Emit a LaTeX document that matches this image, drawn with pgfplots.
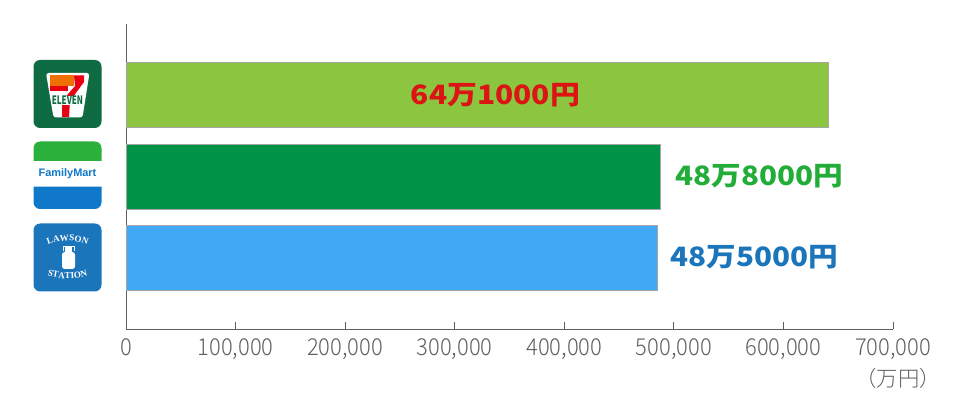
\documentclass[border=0pt]{standalone}
\usepackage{fontspec}
\setmainfont{Noto Sans CJK JP}
\newfontfamily\thinfont{Noto Sans CJK JP Light}
\newfontfamily\logosans{Liberation Sans}
\newfontfamily\logofont{Liberation Serif}
\usepackage{pgfplots}
\pgfplotsset{compat=1.18}
\usetikzlibrary{decorations.text}

\definecolor{bargreen}{HTML}{8CC53F}
\definecolor{bardark}{HTML}{009245}
\definecolor{barblue}{HTML}{3FA9F5}
\definecolor{axisgray}{HTML}{5F5F5F}
\definecolor{txtred}{HTML}{DC1414}
\definecolor{txtgreen}{HTML}{22AC38}
\definecolor{txtblue}{HTML}{1B75BB}
\definecolor{sevendark}{HTML}{0F6B41}
\definecolor{sevenorange}{HTML}{EE7000}
\definecolor{sevenred}{HTML}{E60012}
\definecolor{fmgreen}{HTML}{2BB03C}
\definecolor{fmblue}{HTML}{0F78C8}

\begin{document}
\begin{tikzpicture}
\useasboundingbox (0,0) rectangle (720pt,304.5pt);
\begin{axis}[
    at={(94.5pt,57.75pt)},
    anchor=south west,
    scale only axis,
    width=575.25pt,
    height=228.75pt,
    xmin=0, xmax=700000,
    ymin=-0.871, ymax=2.871,
    axis x line*=bottom,
    axis y line*=left,
    axis line style={axisgray, line width=0.7pt, -},
    xtick={0,100000,200000,300000,400000,500000,600000,700000},
    ytick=\empty,
    scaled x ticks=false,
    xticklabel style={
        /pgf/number format/fixed,
        /pgf/number format/1000 sep={,},
        /pgf/number format/assume math mode=true,
        font=\fontsize{17.5}{17.5}\selectfont\thinfont,
        text=axisgray,
        xscale=0.94,
        yshift=-4pt,
    },
    tick style={axisgray, line width=0.7pt},
    major tick length=5pt,
    tick align=inside,
    clip=false,
    xbar,
    bar width=48.75pt,
    bar shift=0pt,
]
\addplot[fill=barblue, draw=black!35, line width=0.5pt] coordinates {(485000,0)};
\addplot[fill=bardark, draw=black!35, line width=0.5pt] coordinates {(488000,1)};
\addplot[fill=bargreen, draw=black!35, line width=0.5pt] coordinates {(641000,2)};
\end{axis}

% everything below in reference pixels, y downwards
\begin{scope}[shift={(0,304.5pt)}, x=0.75pt, y=-0.75pt]
  \tikzset{val/.style={font=\fontsize{20}{20}\selectfont\bfseries, inner sep=0pt, xscale=1.11}}
  \node[val, text=txtred, xscale=1.01] at (495.5,95) {64万1000円};
  \node[val, text=txtgreen] at (759.5,176) {48万8000円};
  \node[val, text=txtblue] at (754.5,257.5) {48万5000円};
  \node[font=\fontsize{16}{16}\selectfont\thinfont, text=axisgray, inner sep=0pt] at (898,378) {（万円）};

  % seven eleven
  \fill[sevendark, rounded corners=5pt] (33.5,60) rectangle (101.5,128);
  \fill[white, rounded corners=2pt] (46,73) -- (89.5,73) -- (82.5,117.5) -- (53.5,117.5) -- cycle;
  \fill[sevenorange] (49.5,75.5) rectangle (74,86);
  \fill[sevenred] (49.5,86) rectangle (68,91);
  \fill[sevenred] (84,75.5) -- (84,82) -- (70,101) -- (69,117) -- (62,117) -- (62,101) -- (75,86) -- (74,75.5) -- cycle;
  \fill[white] (52.5,96) rectangle (82.5,105);
  \node[font=\fontsize{6}{6}\selectfont\bfseries, text=sevendark, inner sep=0pt, yscale=1.45] at (67.5,100.5) {ELEVEN};

  % family mart
  \fill[fmgreen] (33.5,161) {[rounded corners=5pt] -- (33.5,141.5) -- (101.5,141.5)} -- (101.5,161) -- cycle;
  \fill[fmblue] (33.5,186.7) -- (101.5,186.7) {[rounded corners=5pt] -- (101.5,209) -- (33.5,209)} -- cycle;
  \node[font=\fontsize{8.2}{8.2}\selectfont\logosans\bfseries, text=fmblue, inner sep=0pt] at (67.5,174) {FamilyMart};

  % lawson station
  \fill[txtblue, rounded corners=5pt] (33.5,223.5) rectangle (101.5,291.5);
  \path[decorate, decoration={text along path, text align=center,
      text={|\fontsize{6.8}{6.8}\selectfont\logofont\bfseries\color{white}|LAWSON}}]
      (44,247) .. controls (55,239) and (80,239) .. (91,247);
  \path[decorate, decoration={text along path, text align=center,
      text={|\fontsize{6.8}{6.8}\selectfont\logofont\bfseries\color{white}|STATION}}]
      (44,274) .. controls (55,280) and (80,280) .. (91,274);
  \fill[white, rounded corners=2pt] (62,252) rectangle (75,269);
  \fill[white] (65,246) rectangle (72,253);
  \draw[white, line width=0.6pt] (63,251) -- (63,246) -- (74,246) -- (74,251);
\end{scope}
\end{tikzpicture}
\end{document}
